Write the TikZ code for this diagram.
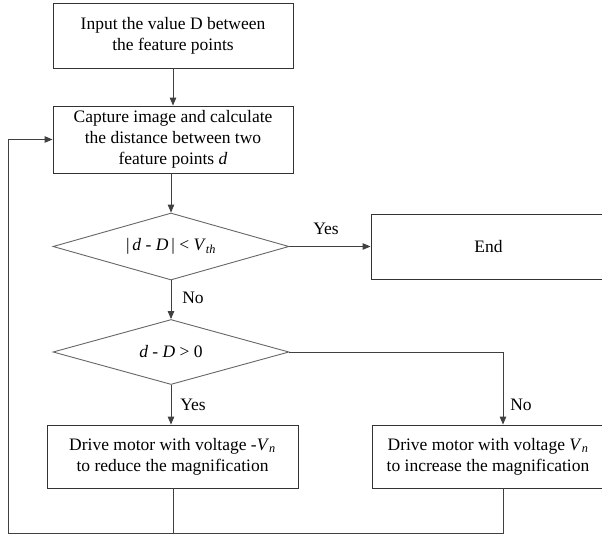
\documentclass[tikz,border=0pt]{standalone}
\usepackage{fontspec}
\setmainfont{Liberation Serif}
\usetikzlibrary{shapes.geometric,arrows.meta,calc}

\tikzset{
	stepbox/.style={draw=black!80,line width=0.9pt,rectangle,align=center,inner sep=2pt},
	decision/.style={draw=black!60,line width=0.9pt,diamond,aspect=3.5,inner sep=0pt,minimum width=236pt,minimum height=67pt},
	flow/.style={draw=black!75,line width=0.9pt},
	arr/.style={flow,-{Triangle[length=8pt,width=6.5pt]}},
	lbl/.style={inner sep=0pt}
}

\begin{document}
\begin{tikzpicture}[x=1pt,y=1pt,font=\fontsize{17.5}{21}\selectfont]
	\useasboundingbox (0,-536) rectangle (602,0);
	% boxes
	\node[stepbox,minimum width=240pt,minimum height=65pt] (input) at (173,-35.5) {Input the value D between\\the feature points};
	\node[stepbox,minimum width=240pt,minimum height=67pt] (capture) at (173,-139.5) {Capture image and calculate\\the distance between two\\feature points \textit{d}};
	\node[decision] (check) at (171,-246.5) {\textbar\,\textit{d} - \textit{D}\,\textbar{} < \textit{V}\textsubscript{\textit{th}}};
	\node[stepbox,minimum width=235pt,minimum height=65pt] (finish) at (488.5,-246.5) {End};
	\node[decision,minimum height=65pt] (sign) at (171,-352) {\textit{d} - \textit{D} > 0};
	\node[stepbox,minimum width=251pt,minimum height=63pt] (reduce) at (172.5,-456.5) {Drive motor with voltage -\textit{V}\textsubscript{\textit{n}}\\to reduce the magnification};
	\node[stepbox,minimum width=232pt,minimum height=63pt] (increase) at (488,-456.5) {Drive motor with voltage \textit{V}\textsubscript{\textit{n}}\\to increase the magnification};
	% bends
	\coordinate (turn) at (503,-352);
	\coordinate (joinL) at (173,-533);
	\coordinate (joinR) at (503,-533);
	\coordinate (back) at (8,-533);
	% connectors
	\draw[arr] (input) -- (capture);
	\draw[arr] (capture.south -| check.north) -- (check);
	\draw[arr] (check) -- (finish);
	\draw[arr] (check) -- (sign);
	\draw[arr] (sign) -- (reduce.north -| sign.south);
	\draw[arr] (sign.east) -- (turn) -- (turn |- increase.north);
	\draw[flow] (reduce.south -| joinL) -- (joinL);
	\draw[flow] (increase.south -| joinR) -- (joinR) -- (back);
	\draw[arr] (back) -- (back |- capture.west) -- (capture.west);
	% labels
	\node[lbl] (yes1) at (326,-229) {Yes};
	\node[lbl] (no1) at (193,-298) {No};
	\node[lbl] (yes2) at (193,-405) {Yes};
	\node[lbl] (no2) at (521,-405) {No};
\end{tikzpicture}
\end{document}
